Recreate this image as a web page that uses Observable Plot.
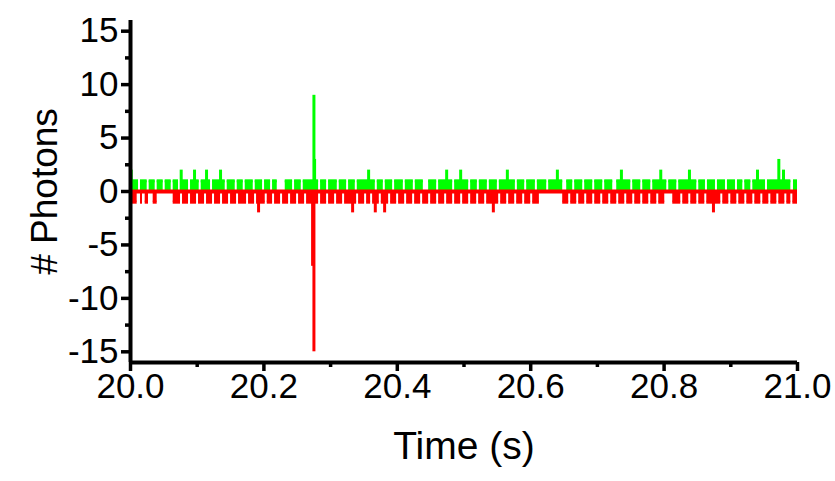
<!DOCTYPE html>
<html>
<head>
<meta charset="utf-8">
<script src="https://cdn.jsdelivr.net/npm/d3@7"></script>
<script src="https://cdn.jsdelivr.net/npm/@observablehq/plot@0.6"></script>
<style>
  html, body { margin: 0; padding: 0; background: #fff; }
  #chart { width: 835px; height: 481px; }
  #chart [aria-label$="axis tick"], #chart [aria-label$="axis tick"] * { stroke-width: 3.5px !important; stroke: #000 !important; }
</style>
</head>
<body>
<div id="chart"></div>
<script>
// ---- data (time in seconds, counts in photons) ----
const tStart = 20.0;
const tEnd = 21.0;
const xTicks = [20.0, 20.2, 20.4, 20.6, 20.8, 21.0];
const xMinorTicks = [20.1, 20.3, 20.5, 20.7, 20.9];
const yTicks = [-15, -10, -5, 0, 5, 10, 15];
const yMinorTicks = [-12.5, -7.5, -2.5, 2.5, 7.5, 12.5];
const yDomain = [-16, 16];

// green channel: baseline level 1 photon, interrupted by runs of 0
const greenLevel = 1;
const greenZeroRuns = [
  [20.012,20.015],[20.025,20.028],[20.037,20.040],[20.049,20.052],[20.061,20.064],
  [20.072,20.075],[20.087,20.090],[20.103,20.106],[20.120,20.123],[20.142,20.145],
  [20.157,20.160],[20.169,20.172],[20.184,20.187],[20.198,20.201],[20.210,20.213],
  [20.220,20.232],[20.243,20.246],[20.256,20.259],[20.282,20.285],[20.294,20.297],
  [20.310,20.313],[20.324,20.327],[20.337,20.340],[20.367,20.370],[20.379,20.382],
  [20.393,20.396],[20.409,20.412],[20.424,20.427],[20.439,20.447],[20.459,20.462],
  [20.483,20.486],[20.507,20.510],[20.520,20.523],[20.535,20.538],[20.550,20.553],
  [20.577,20.580],[20.591,20.594],[20.607,20.610],[20.624,20.627],[20.648,20.654],
  [20.663,20.666],[20.678,20.681],[20.693,20.696],[20.708,20.711],[20.723,20.729],
  [20.750,20.753],[20.765,20.768],[20.780,20.783],[20.804,20.807],[20.819,20.822],
  [20.849,20.852],[20.862,20.865],[20.877,20.880],[20.892,20.895],[20.907,20.910],
  [20.918,20.921],[20.930,20.933],[20.952,20.955],[20.990,20.994]
];
const greenSpikeTimes  = [20.001, 20.076, 20.096, 20.114, 20.135, 20.275, 20.276, 20.357, 20.474, 20.495, 20.565, 20.640, 20.736, 20.795, 20.838, 20.940, 20.972, 20.979];
const greenSpikeValues = [2,      2,      2,      2,      2,      9,      3,      2,      2,      2,      2,      2,      2,      2,      2,      2,      3,      2];

// red channel (plotted negative): level -1, interrupted by runs of 0
const redLevel = -1;
const redZeroRuns = [
  [20.010,20.015],[20.018,20.022],[20.027,20.034],[20.040,20.064],[20.075,20.078],
  [20.087,20.090],[20.099,20.102],[20.111,20.114],[20.123,20.126],[20.135,20.138],
  [20.147,20.150],[20.159,20.162],[20.174,20.177],[20.186,20.189],[20.202,20.205],
  [20.213,20.216],[20.225,20.228],[20.237,20.240],[20.249,20.252],[20.261,20.264],
  [20.282,20.285],[20.294,20.297],[20.306,20.309],[20.318,20.321],[20.339,20.342],
  [20.351,20.354],[20.360,20.363],[20.373,20.376],[20.387,20.390],[20.399,20.402],
  [20.411,20.414],[20.423,20.426],[20.435,20.438],[20.447,20.450],[20.459,20.462],
  [20.471,20.474],[20.483,20.486],[20.495,20.498],[20.507,20.510],[20.519,20.522],
  [20.531,20.534],[20.552,20.555],[20.564,20.567],[20.576,20.579],[20.588,20.591],
  [20.600,20.603],[20.613,20.648],[20.657,20.660],[20.669,20.672],[20.681,20.684],
  [20.693,20.696],[20.705,20.708],[20.717,20.720],[20.729,20.732],[20.741,20.744],
  [20.753,20.756],[20.765,20.768],[20.777,20.780],[20.789,20.792],[20.801,20.813],
  [20.825,20.828],[20.837,20.840],[20.849,20.852],[20.861,20.864],[20.885,20.888],
  [20.897,20.900],[20.909,20.912],[20.921,20.924],[20.933,20.936],[20.945,20.948],
  [20.957,20.960],[20.969,20.972],[20.981,20.984],[20.990,20.993]
];
const redSpikeTimes  = [20.192, 20.273, 20.275, 20.333, 20.367, 20.381, 20.544, 20.874];
const redSpikeValues = [-2,     -7,     -15,    -2,     -2,     -2,     -2,     -2];

const green = "#00ff00";
const red = "#ff0000";
const font = "'Liberation Sans', Arial, sans-serif";

// ---- tables built from the arrays ----
function blocks(zeroRuns, value) {
  const out = [];
  let s = tStart;
  for (const [a, b] of zeroRuns) { out.push({start: s, end: a, value}); s = b; }
  out.push({start: s, end: tEnd, value});
  return out;
}
const greenBlocks = blocks(greenZeroRuns, greenLevel);
const redBlocks = blocks(redZeroRuns, redLevel);
const greenSpikes = greenSpikeTimes.map((t, i) => ({t, v: greenSpikeValues[i]}));
const redSpikes = redSpikeTimes.map((t, i) => ({t, v: redSpikeValues[i]}));

const chart = Plot.plot({
  width: 835,
  height: 481,
  marginLeft: 130,
  marginRight: 38,
  marginTop: 20,
  marginBottom: 119,
  style: {fontFamily: font, fontSize: "35px", color: "#000", background: "#fff"},
  x: {domain: [tStart, tEnd]},
  y: {domain: yDomain},
  marks: [
    // green channel
    Plot.rectY(greenBlocks, {x1: "start", x2: "end", y1: 0, y2: "value", fill: green}),
    Plot.ruleY(greenBlocks, {y: "value", x1: "start", x2: "end", stroke: green, strokeWidth: 3}),
    Plot.ruleX(greenSpikes, {x: "t", y1: 0, y2: "v", stroke: green, strokeWidth: 3}),
    // red channel
    Plot.rectY(redBlocks, {x1: "start", x2: "end", y1: 0, y2: "value", fill: red}),
    Plot.ruleY(redBlocks, {y: "value", x1: "start", x2: "end", stroke: red, strokeWidth: 3}),
    Plot.ruleX(redSpikes, {x: "t", y1: 0, y2: "v", stroke: red, strokeWidth: 3}),
    Plot.ruleY([0], {x1: tStart, x2: tEnd, stroke: red, strokeWidth: 4}),
    // axes
    Plot.axisX({ticks: xTicks, tickSize: 9, tickPadding: 2, strokeWidth: 3.5, tickFormat: d => d.toFixed(1), label: null}),
    Plot.axisX({ticks: xMinorTicks, tickSize: 5, strokeWidth: 3.5, tickFormat: () => "", label: null}),
    Plot.axisY({ticks: yTicks, tickSize: 9, tickPadding: 3, strokeWidth: 3.5, tickFormat: d => String(d), label: null}),
    Plot.axisY({ticks: yMinorTicks, tickSize: 5, strokeWidth: 3.5, tickFormat: () => "", label: null}),
    Plot.ruleX([tStart], {stroke: "#000", strokeWidth: 4}),
    Plot.ruleY([yDomain[0]], {stroke: "#000", strokeWidth: 4}),
    Plot.text(["Time (s)"], {frameAnchor: "bottom", dy: 96, fontSize: 39, fill: "#000"}),
    Plot.text(["# Photons"], {frameAnchor: "left", dx: -85, rotate: -90, textAnchor: "middle", fontSize: 37, fill: "#000"})
  ]
});
document.getElementById("chart").appendChild(chart);
</script>
</body>
</html>
